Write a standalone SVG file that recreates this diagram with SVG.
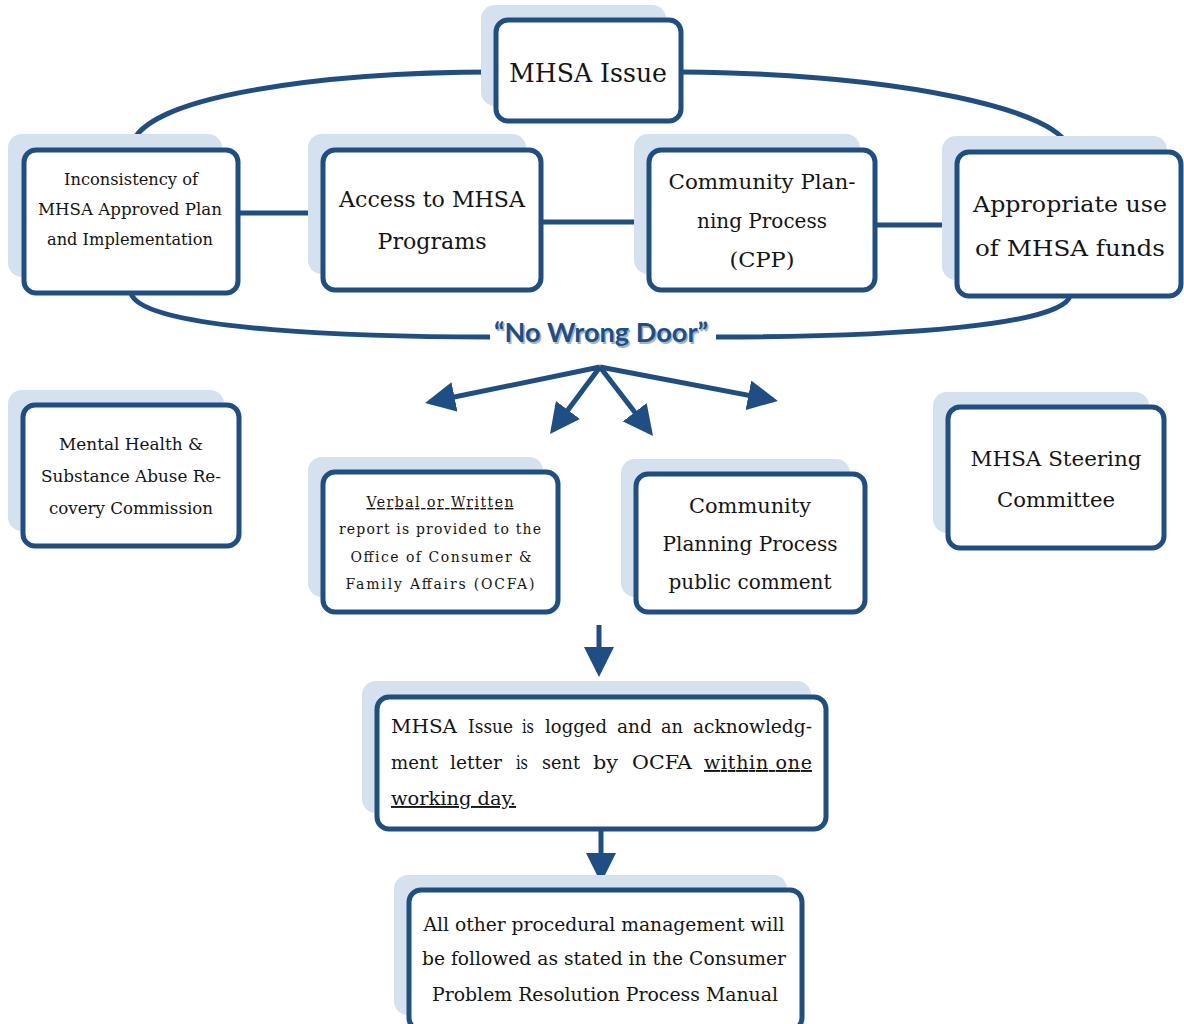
<svg xmlns="http://www.w3.org/2000/svg" width="1184" height="1024" viewBox="0 0 1184 1024">
<style>
.sh{fill:#d6e1ef;}
.bx{fill:#fff;stroke:#1f4e85;stroke-width:5;}
.ln{fill:none;stroke:#1f4e85;stroke-width:5;}
.t{font-family:"DejaVu Serif","Liberation Serif",serif;fill:#151515;text-anchor:middle;}
.s{text-anchor:start;}
.u{text-decoration:underline;}
</style>
<defs>
<marker id="ah" markerWidth="7" markerHeight="6" refX="5" refY="3" orient="auto" markerUnits="strokeWidth"><path d="M0,0 L6,3 L0,6 Z" fill="#1f4e85"/></marker>
</defs>
<rect width="1184" height="1024" fill="#fff"/>

<g id="connectors">
<path class="ln" d="M131,150 C133,95 330,72 496,72"/>
<path class="ln" d="M681,72 C900,74 1066,110 1070,152"/>
<path class="ln" d="M131,293 C140,332 380,337 490,337"/>
<path class="ln" d="M716,337 C900,337 1062,325 1070,296"/>
<line class="ln" x1="238" y1="213" x2="323" y2="213"/>
<line class="ln" x1="541" y1="222" x2="648" y2="222"/>
<line class="ln" x1="874" y1="225" x2="957" y2="225"/>
<line class="ln" x1="600" y1="367" x2="430" y2="402" marker-end="url(#ah)"/>
<line class="ln" x1="600" y1="367" x2="553" y2="430" marker-end="url(#ah)"/>
<line class="ln" x1="600" y1="367" x2="650" y2="432" marker-end="url(#ah)"/>
<line class="ln" x1="600" y1="367" x2="773" y2="400" marker-end="url(#ah)"/>
<line class="ln" x1="599" y1="625" x2="599" y2="672" marker-end="url(#ah)"/>
<line class="ln" x1="601" y1="829" x2="601" y2="878" marker-end="url(#ah)"/>
<text x="601" y="342" font-family="Lato,'Open Sans',sans-serif" font-weight="bold" font-size="26" fill="#9fb3c9" text-anchor="middle" textLength="214" lengthAdjust="spacingAndGlyphs" transform="translate(1.5,1.5)">“No Wrong Door”</text>
<text x="601" y="342" font-family="Lato,'Open Sans',sans-serif" font-weight="bold" font-size="26" fill="#1f4e85" text-anchor="middle" textLength="214" lengthAdjust="spacingAndGlyphs">“No Wrong Door”</text>
</g>

<g id="n-mhsa-issue">
<rect class="sh" x="481" y="5" width="185" height="101" rx="14"/>
<rect class="bx" x="496" y="20" width="185" height="101" rx="12"/>
<text class="t" x="588" y="82" font-size="26" textLength="158" lengthAdjust="spacingAndGlyphs">MHSA Issue</text>
</g>

<g id="n-inconsistency">
<rect class="sh" x="8" y="134" width="214" height="143" rx="14"/>
<rect class="bx" x="24" y="150" width="214" height="143" rx="12"/>
<g class="t" font-size="16.5">
<text x="131" y="185" textLength="134" lengthAdjust="spacingAndGlyphs">Inconsistency of</text>
<text x="130" y="215" textLength="184" lengthAdjust="spacingAndGlyphs">MHSA Approved Plan</text>
<text x="130" y="245" textLength="166" lengthAdjust="spacingAndGlyphs">and Implementation</text>
</g>
</g>

<g id="n-access">
<rect class="sh" x="308" y="134" width="218" height="140" rx="14"/>
<rect class="bx" x="323" y="150" width="218" height="140" rx="12"/>
<g class="t" font-size="22">
<text x="432" y="207" textLength="186" lengthAdjust="spacingAndGlyphs">Access to MHSA</text>
<text x="432" y="249" textLength="109" lengthAdjust="spacingAndGlyphs">Programs</text>
</g>
</g>

<g id="n-cpp">
<rect class="sh" x="634" y="134" width="226" height="140" rx="14"/>
<rect class="bx" x="649" y="150" width="226" height="140" rx="12"/>
<g class="t" font-size="20">
<text x="762" y="189" textLength="187" lengthAdjust="spacingAndGlyphs">Community Plan-</text>
<text x="762" y="228" textLength="130" lengthAdjust="spacingAndGlyphs">ning Process</text>
<text x="762" y="267" textLength="65" lengthAdjust="spacingAndGlyphs">(CPP)</text>
</g>
</g>

<g id="n-appropriate">
<rect class="sh" x="942" y="136" width="225" height="144" rx="14"/>
<rect class="bx" x="957" y="152" width="224" height="144" rx="12"/>
<g class="t" font-size="23">
<text x="1070" y="212" textLength="194" lengthAdjust="spacingAndGlyphs">Appropriate use</text>
<text x="1070" y="256" textLength="190" lengthAdjust="spacingAndGlyphs">of MHSA funds</text>
</g>
</g>

<g id="n-mental-health">
<rect class="sh" x="8" y="390" width="216" height="141" rx="14"/>
<rect class="bx" x="23" y="405" width="216" height="141" rx="12"/>
<g class="t" font-size="17">
<text x="131" y="450" textLength="144" lengthAdjust="spacingAndGlyphs">Mental Health &amp;</text>
<text x="131" y="482" textLength="180" lengthAdjust="spacingAndGlyphs">Substance Abuse Re-</text>
<text x="131" y="514" textLength="164" lengthAdjust="spacingAndGlyphs">covery Commission</text>
</g>
</g>

<g id="n-verbal">
<rect class="sh" x="308" y="457" width="235" height="140" rx="14"/>
<rect class="bx" x="323" y="472" width="235" height="140" rx="12"/>
<g class="t" font-size="14">
<text class="u" x="440" y="507" textLength="147" lengthAdjust="spacing">Verbal or Written</text>
<text x="440" y="534" textLength="202" lengthAdjust="spacing">report is provided to the</text>
<text x="441" y="562" textLength="181" lengthAdjust="spacing">Office of  Consumer &amp;</text>
<text x="440" y="589" textLength="189" lengthAdjust="spacing">Family Affairs (OCFA)</text>
</g>
</g>

<g id="n-cpp-comment">
<rect class="sh" x="621" y="459" width="229" height="138" rx="14"/>
<rect class="bx" x="636" y="474" width="229" height="138" rx="12"/>
<g class="t" font-size="20">
<text x="750" y="513" textLength="122" lengthAdjust="spacingAndGlyphs">Community</text>
<text x="750" y="551" textLength="175" lengthAdjust="spacingAndGlyphs">Planning Process</text>
<text x="750" y="589" textLength="163" lengthAdjust="spacingAndGlyphs">public comment</text>
</g>
</g>

<g id="n-steering">
<rect class="sh" x="933" y="392" width="216" height="141" rx="14"/>
<rect class="bx" x="948" y="407" width="216" height="141" rx="12"/>
<g class="t" font-size="20">
<text x="1056" y="466" textLength="171" lengthAdjust="spacingAndGlyphs">MHSA Steering</text>
<text x="1056" y="507" textLength="118" lengthAdjust="spacingAndGlyphs">Committee</text>
</g>
</g>

<g id="n-logged">
<rect class="sh" x="362" y="681" width="449" height="132" rx="14"/>
<rect class="bx" x="377" y="697" width="449" height="132" rx="12"/>
<g class="t s" font-size="19">
<text y="733"><tspan x="391" textLength="66" lengthAdjust="spacingAndGlyphs">MHSA</tspan><tspan x="468" textLength="45" lengthAdjust="spacingAndGlyphs">Issue</tspan><tspan x="522" textLength="12" lengthAdjust="spacingAndGlyphs">is</tspan><tspan x="545" textLength="62" lengthAdjust="spacingAndGlyphs">logged</tspan><tspan x="617" textLength="35" lengthAdjust="spacingAndGlyphs">and</tspan><tspan x="661" textLength="22" lengthAdjust="spacingAndGlyphs">an</tspan><tspan x="693" textLength="119" lengthAdjust="spacingAndGlyphs">acknowledg-</tspan></text>
<text y="769"><tspan x="391" textLength="47" lengthAdjust="spacingAndGlyphs">ment</tspan><tspan x="450" textLength="52" lengthAdjust="spacingAndGlyphs">letter</tspan><tspan x="516" textLength="12" lengthAdjust="spacingAndGlyphs">is</tspan><tspan x="542" textLength="38" lengthAdjust="spacingAndGlyphs">sent</tspan><tspan x="593" textLength="25" lengthAdjust="spacingAndGlyphs">by</tspan><tspan x="632" textLength="60" lengthAdjust="spacingAndGlyphs">OCFA</tspan></text>
<text class="u" x="704" y="769" textLength="108" lengthAdjust="spacing">within one</text>
<text class="u" x="391" y="805" textLength="125" lengthAdjust="spacingAndGlyphs">working day.</text>
</g>
</g>

<g id="n-other">
<rect class="sh" x="394" y="875" width="393" height="140" rx="14"/>
<rect class="bx" x="409" y="890" width="393" height="140" rx="12"/>
<g class="t" font-size="19">
<text x="604" y="931" textLength="361" lengthAdjust="spacingAndGlyphs">All other procedural management will</text>
<text x="604" y="965" textLength="364" lengthAdjust="spacingAndGlyphs">be followed as stated in the  Consumer</text>
<text x="605" y="1001" textLength="346" lengthAdjust="spacingAndGlyphs">Problem Resolution Process Manual</text>
</g>
</g>
</svg>
